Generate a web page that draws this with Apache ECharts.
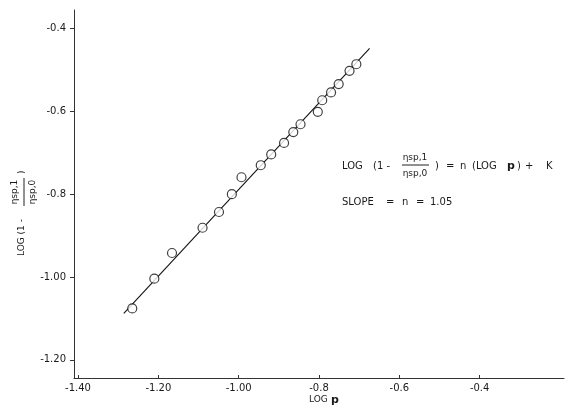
<!DOCTYPE html>
<html><head><meta charset="utf-8">
<script src="https://cdn.jsdelivr.net/npm/echarts@6/dist/echarts.min.js"></script>
<style>html,body{margin:0;padding:0;background:#fff}#c{width:568px;height:406px}</style>
</head><body><div id="c"></div>
<script>
// Data
const logP = [-1.265, -1.210, -1.166, -1.090, -1.049, -1.017, -0.993, -0.945, -0.919,
  -0.887, -0.864, -0.846, -0.803, -0.792, -0.770, -0.751, -0.724, -0.707];
const logRatio = [-1.076, -1.004, -0.942, -0.881, -0.843, -0.800, -0.759, -0.730, -0.704,
  -0.676, -0.650, -0.631, -0.601, -0.573, -0.554, -0.534, -0.502, -0.486];
const fitX = [-1.286, -0.674];
const fitY = [-1.088, -0.448];
const xTicks = [-1.4, -1.2, -1.0, -0.8, -0.6, -0.4];
const xTickLabels = ['-1.40', '-1.20', '-1.00', '-0.8', '-0.6', '-0.4'];
const yTicks = [-0.4, -0.6, -0.8, -1.0, -1.2];
const yTickLabels = ['-0.4', '-0.6', '-0.8', '-1.00', '-1.20'];

function lab(ticks, labels) {
  return function (v) {
    for (let i = 0; i < ticks.length; i++) if (Math.abs(v - ticks[i]) < 1e-6) return labels[i];
    return '';
  };
}
const FONT = 'DejaVu Sans';
const TXT = '#1a1a1a';
const FS = 9;
function t(x, y, text, extra) {
  return {type: 'text', x: x, y: y, style: Object.assign({text: text, fontFamily: FONT, fontSize: 10, fill: TXT,
    verticalAlign: 'middle', textAlign: 'left'}, extra || {})};
}
const chart = echarts.init(document.getElementById('c'), null, {renderer: 'canvas'});
chart.setOption({
  animation: false,
  backgroundColor: '#fff',
  grid: {left: 74, right: 4, top: 10, bottom: 28},
  xAxis: {
    type: 'value', min: -1.41, max: -0.19,
    splitLine: {show: false},
    axisLine: {show: true, onZero: false, lineStyle: {color: '#333', width: 1}},
    axisTick: {show: true, inside: true, length: 3, customValues: xTicks, lineStyle: {color: '#333'}},
    axisLabel: {customValues: xTicks, formatter: lab(xTicks, xTickLabels), color: TXT,
      fontFamily: FONT, fontSize: 10, margin: 5}
  },
  yAxis: {
    type: 'value', min: -1.244, max: -0.355,
    splitLine: {show: false},
    axisLine: {show: true, onZero: false, lineStyle: {color: '#333', width: 1}},
    axisTick: {show: true, inside: false, length: 4, customValues: yTicks, lineStyle: {color: '#333'}},
    axisLabel: {customValues: yTicks, formatter: lab(yTicks, yTickLabels), color: TXT,
      fontFamily: FONT, fontSize: 10, margin: 8}
  },
  series: [
    {type: 'line', data: fitX.map((x, i) => [x, fitY[i]]), showSymbol: false,
      lineStyle: {color: '#111', width: 1.1}, silent: true, z: 2},
    {type: 'scatter', data: logP.map((x, i) => [x, logRatio[i]]), symbol: 'circle', symbolSize: 9,
      itemStyle: {color: '#fff', borderColor: '#111', borderWidth: 1.2}, z: 3}
  ],
  graphic: [
    // x-axis name
    {type: 'group', x: 309, y: 400, children: [
      t(0, 0, 'LOG', {fontSize: FS}),
      t(22, 0, 'p', {fontSize: 11, fontWeight: 'bold'})
    ]},
    // y-axis name (rotated)
    {type: 'group', x: 22, y: 210, rotation: Math.PI / 2, children: [
      t(-46, 0, 'LOG (1 -', {fontSize: FS}),
      t(18, -7, 'ηsp,1', {fontSize: FS, textAlign: 'center'}),
      {type: 'line', shape: {x1: 4, y1: 2, x2: 32, y2: 2}, style: {stroke: '#222', lineWidth: 1}},
      t(18, 11, 'ηsp,0', {fontSize: FS, textAlign: 'center'}),
      t(36, 0, ')', {fontSize: FS})
    ]},
    // equation annotation
    {type: 'group', x: 342, y: 166, children: [
      t(0, 0, 'LOG'),
      t(31, 0, '(1 -'),
      t(73, -8, 'ηsp,1', {fontSize: FS, textAlign: 'center'}),
      {type: 'line', shape: {x1: 60, y1: -1, x2: 87, y2: -1}, style: {stroke: '#222', lineWidth: 1}},
      t(73, 8, 'ηsp,0', {fontSize: FS, textAlign: 'center'}),
      t(93, 0, ')'),
      t(104, 0, '='),
      t(118, 0, 'n'),
      t(130, 0, '(LOG'),
      t(165, 0, 'p', {fontSize: 11, fontWeight: 'bold'}),
      t(175, 0, ')'),
      t(183, 0, '+'),
      t(204, 0, 'K')
    ]},
    {type: 'group', x: 342, y: 202, children: [
      t(0, 0, 'SLOPE'),
      t(44, 0, '='),
      t(60, 0, 'n'),
      t(74, 0, '='),
      t(88, 0, '1.05')
    ]}
  ]
});
</script>
</body></html>
